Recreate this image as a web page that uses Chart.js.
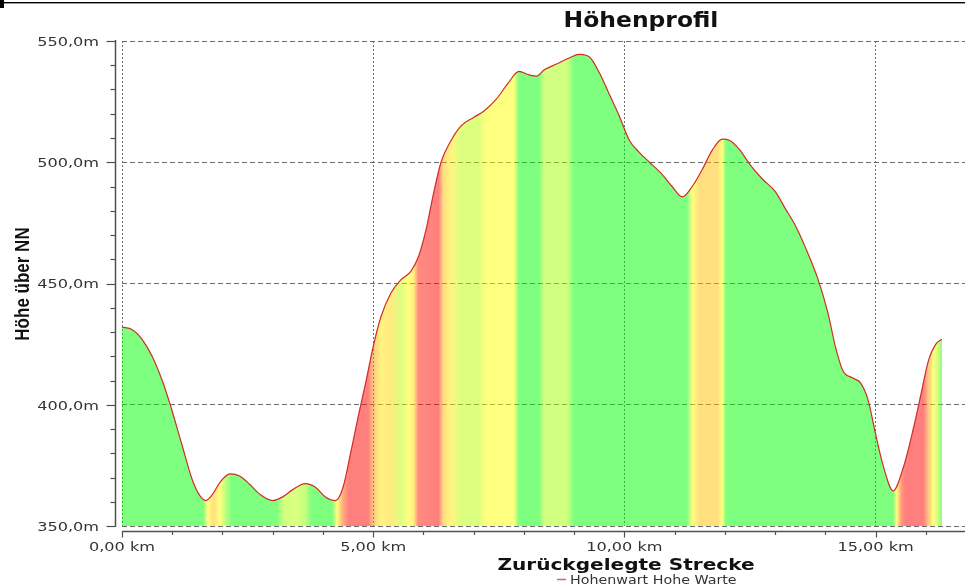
<!DOCTYPE html>
<html><head><meta charset="utf-8">
<script src="https://cdn.jsdelivr.net/npm/chart.js@4"></script>
<style>html,body{margin:0;padding:0;background:#fff;}#wrap{width:965px;height:586px;}</style>
</head><body><div id="wrap"><canvas id="c" width="965" height="586"></canvas></div>
<script>
// ---- data ----
const distanceKm = [0.00,0.20,0.40,0.60,0.80,0.96,1.20,1.40,1.55,1.67,1.80,1.95,2.15,2.35,2.55,2.75,3.00,3.20,3.40,3.65,3.85,4.05,4.25,4.40,4.55,4.70,4.85,5.00,5.15,5.35,5.55,5.75,5.90,6.05,6.20,6.35,6.55,6.75,7.00,7.20,7.45,7.70,7.90,8.10,8.25,8.40,8.65,8.90,9.10,9.30,9.50,9.70,9.90,10.10,10.30,10.50,10.75,10.95,11.15,11.35,11.55,11.75,11.95,12.10,12.30,12.50,12.75,13.00,13.20,13.40,13.60,13.85,14.05,14.20,14.35,14.55,14.70,14.85,15.00,15.15,15.35,15.55,15.75,15.90,16.05,16.20,16.32];
const heightM = [432,431,427,420,410,400,383,369,362.5,360.5,363,368,371.5,370.5,367,363,360.5,362,365,367.5,366,362,360.5,366,380,395,409,424,436,446,451.5,455,461,472,487,500,509,515,518.5,521,526,533,537.5,536,535.5,538,540.5,543,544.5,543.5,537,528,519,509,504,500,495,490,485.7,490,497,505,509.5,509,505,499,493,488,481,474,465,452,438,424,414,411,409,402,388,375,364.5,374,390,404,418,425,427];
// gradient (Steigung, %) along the route
const gradeKm  = [0,1.62,1.70,1.82,1.95,2.05,2.18,3.08,3.22,3.45,3.65,3.78,4.18,4.28,4.40,4.52,4.90,5.00,5.15,5.35,5.55,5.68,5.80,5.90,6.30,6.40,6.55,6.75,7.10,7.25,7.80,7.90,8.30,8.40,8.85,9.00,11.25,11.35,11.50,11.85,11.95,12.02,15.35,15.42,15.52,15.60,15.95,16.05,16.15,16.26,16.32];
const gradePct = [0,0,2.5,4,2.5,1,0,0,1.2,1.5,1,0,0,2.5,6,8,8,5,3,3.5,1.5,2.5,3,7.5,8,4,3,1.5,1.5,2.5,2.5,0,0,1.2,1.2,0,0,2.5,4,4,2.5,0,0,2.5,7,8,8,5,2.5,1,0];
const xTicks = [0,5,10,15];
const xTickLabels = ['0,00 km','5,00 km','10,00 km','15,00 km'];
const yTicks = [350,400,450,500,550];
const yTickLabels = ['350,0m','400,0m','450,0m','500,0m','550,0m'];
const chartTitle = 'Höhenprofil';
const xTitle = 'Zurückgelegte Strecke';
const yTitle = 'Höhe über NN';
const seriesName = 'Hohenwart Hohe Warte';

// ---- styling ----
const SX = 1.24; // horizontal stretch of the reference image
const anchors = [[0,[0,255,0]],[1.2,[165,255,0]],[2.5,[255,255,0]],[4,[255,192,0]],[6,[255,90,0]],[8,[255,0,0]]];
function gradeColor(p){
  if(p<=anchors[0][0]) return `rgba(${anchors[0][1].join(',')},0.5)`;
  for(let i=1;i<anchors.length;i++){
    if(p<=anchors[i][0]){
      const [a,ca]=anchors[i-1],[b,cb]=anchors[i];const t=(p-a)/(b-a);
      const c=ca.map((v,j)=>Math.round(v+(cb[j]-v)*t));
      return `rgba(${c.join(',')},0.5)`;
    }
  }
  return `rgba(${anchors[anchors.length-1][1].join(',')},0.5)`;
}
function sText(ctx,text,x,y,align,font,color){
  ctx.save();ctx.font=font;ctx.fillStyle=color;ctx.textBaseline='alphabetic';ctx.textAlign='left';
  const w=ctx.measureText(text).width*SX;
  const left=align==='center'?x-w/2:align==='right'?x-w:x;
  ctx.translate(left,y);ctx.scale(SX,1);ctx.fillText(text,0,0);ctx.restore();
}
const decor={
  id:'decor',
  afterDraw(chart){
    const {ctx,scales:{x,y},chartArea:ca}=chart;
    ctx.save();
    // top border of the picture
    ctx.fillStyle='#000';ctx.fillRect(0,2,965,1.4);ctx.fillRect(0,0,4,8);
    // axis lines
    ctx.strokeStyle='#505050';ctx.lineWidth=1.5;
    const ax=ca.left-6.5;
    ctx.beginPath();ctx.moveTo(ax,y.getPixelForValue(550)-1);ctx.lineTo(ax,y.getPixelForValue(350)+1);ctx.stroke();
    const ay=ca.bottom+5.5;
    ctx.beginPath();ctx.moveTo(ca.left,ay);ctx.lineTo(ca.right,ay);ctx.stroke();
    ctx.lineWidth=1.2;
    for(let v=350;v<=550;v+=10){
      const py=Math.round(y.getPixelForValue(v))+0.5;const major=v%50===0;
      ctx.beginPath();ctx.moveTo(ax,py);ctx.lineTo(ax-(major?9:5),py);ctx.stroke();
    }
    for(let k=0;k<=16;k++){
      const px=Math.round(x.getPixelForValue(k))+0.5;const major=k%5===0;
      ctx.beginPath();ctx.moveTo(px,ay);ctx.lineTo(px,ay+(major?6:3.5));ctx.stroke();
    }
    // tick labels
    yTicks.forEach((v,i)=>sText(ctx,yTickLabels[i],99,y.getPixelForValue(v)+4.8,'right','13px "DejaVu Sans"','#333'));
    xTicks.forEach((v,i)=>sText(ctx,xTickLabels[i],x.getPixelForValue(v),551,'center','13px "DejaVu Sans"','#333'));
    // titles
    sText(ctx,chartTitle,641,27,'center','bold 21px "DejaVu Sans Condensed", "Liberation Sans"','#111');
    sText(ctx,xTitle,626,570,'center','bold 16.2px "DejaVu Sans"','#111');
    ctx.save();ctx.translate(29,284);ctx.scale(SX,1);ctx.rotate(-Math.PI/2);
    ctx.font='bold 17px "Liberation Sans"';ctx.fillStyle='#111';ctx.textAlign='center';ctx.textBaseline='alphabetic';
    ctx.fillText(yTitle,0,0);ctx.restore();
    // legend
    ctx.strokeStyle='#e06060';ctx.lineWidth=1.5;ctx.beginPath();ctx.moveTo(557,579.5);ctx.lineTo(566,579.5);ctx.stroke();
    sText(ctx,seriesName,570,583.5,'left','11.5px "DejaVu Sans"','#333');
    ctx.restore();
  }
};
new Chart(document.getElementById('c'),{
  type:'line',
  data:{datasets:[{
    label:seriesName,
    data:distanceKm.map((k,i)=>({x:k,y:heightM[i]})),
    borderColor:'#d02c25',borderWidth:1.2,pointRadius:0,
    cubicInterpolationMode:'monotone',
    fill:'start',
    backgroundColor:(c)=>{
      const ch=c.chart;const {chartArea,scales}=ch;
      if(!chartArea) return 'rgba(0,255,0,0.5)';
      const k0=gradeKm[0],k1=gradeKm[gradeKm.length-1];
      const g=ch.ctx.createLinearGradient(scales.x.getPixelForValue(k0),0,scales.x.getPixelForValue(k1),0);
      gradeKm.forEach((k,i)=>g.addColorStop((k-k0)/(k1-k0),gradeColor(gradePct[i])));
      return g;
    }
  }]},
  options:{
    responsive:false,devicePixelRatio:1,animation:false,
    layout:{padding:{top:41,left:0,right:0,bottom:0}},
    plugins:{legend:{display:false},title:{display:false},tooltip:{enabled:false}},
    scales:{
      x:{type:'linear',min:0,max:16.78,
        afterFit:(s)=>{s.height=60;},
        ticks:{display:false,stepSize:5,includeBounds:false},
        grid:{color:'#6a6a6a',lineWidth:1,drawTicks:false},
        border:{display:false,dash:[2,2]}},
      y:{type:'linear',min:350,max:550,
        afterFit:(s)=>{s.width=122;},
        ticks:{display:false,stepSize:50},
        grid:{color:'#6a6a6a',lineWidth:1,drawTicks:false},
        border:{display:false,dash:[5,3]}}
    }
  },
  plugins:[decor]
});
</script></body></html>
